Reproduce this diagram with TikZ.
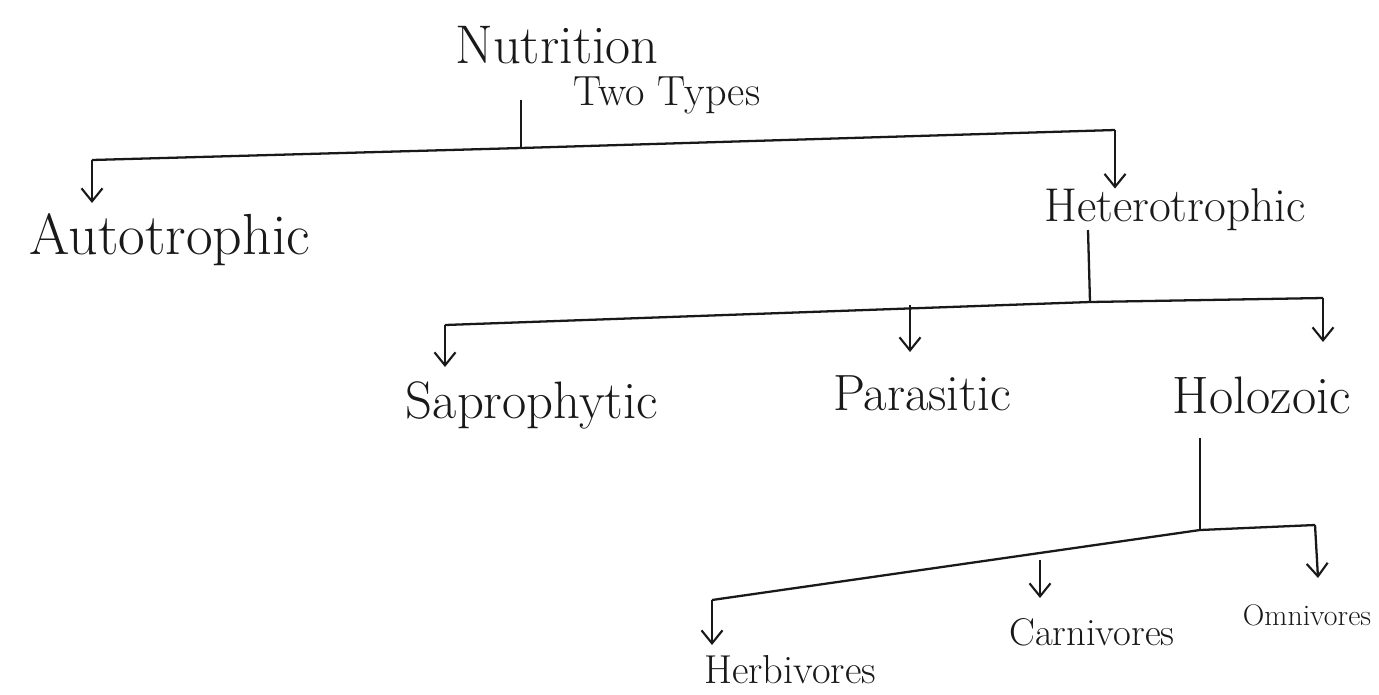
\documentclass[tikz,border=0pt]{standalone}
\usetikzlibrary{arrows.meta}
\begin{document}
\begin{tikzpicture}[x=0.02cm,y=-0.02cm,
  ink/.style={line width=1.3pt,draw=black!90},
  arr/.style={ink,-{Straight Barb[length=2.6mm,width=4.2mm,line width=1.2pt]}},
  lbl/.style={inner sep=0pt,text=black!90},
  big/.style={lbl,font=\fontsize{#1}{#1}\selectfont}]
\fill[white] (0,0) rectangle (1379,694);
\useasboundingbox (0,0) rectangle (1379,694);
% labels
\node[big=31] (nut) at (557,45) {Nutrition};
\node[big=24] (two) at (667,95) {Two Types};
\node[big=33] (auto) at (170,240) {Autotrophic};
\node[big=27] (het) at (1175,210) {Heterotrophic};
\node[big=30] (sap) at (532,405) {Saprophytic};
\node[big=29] (par) at (922,393) {Parasitic};
\node[big=30] (hol) at (1262,395) {Holozoic};
\node[big=23] (herb) at (790,670) {Herbivores};
\node[big=22] (carn) at (1092,632) {Carnivores};
\node[big=17] (omni) at (1307,615) {Omnivores};
% joints
\coordinate (j1) at (521,148);
\coordinate (b1l) at (92,160);
\coordinate (b1r) at (1115,130);
\coordinate (j2) at (1090,302);
\coordinate (b2l) at (445,325);
\coordinate (b2m) at (910,305);
\coordinate (b2r) at (1323,298);
\coordinate (j3) at (1200,530);
\coordinate (b3l) at (712,600);
\coordinate (b3m) at (1040,560);
\coordinate (b3r) at (1315,525);
% level 1
\draw[ink] (521,100) -- (j1);
\draw[ink] (b1l) -- (j1) -- (b1r);
\draw[arr] (b1l) -- (92,203);
\draw[arr] (b1r) -- (het.north -| b1r);
% level 2
\draw[ink] (1088,230) -- (j2);
\draw[ink] (b2l) -- (j2) -- (b2r);
\draw[arr] (b2l) -- (445,367);
\draw[arr] (b2m) -- (910,352);
\draw[arr] (b2r) -- (1323,342);
% level 3
\draw[ink] (1200,438) -- (j3);
\draw[ink] (b3l) -- (j3) -- (b3r);
\draw[arr] (b3l) -- (712,645);
\draw[arr] (b3m) -- (1040,598);
\draw[arr] (b3r) -- (1318,578);
\end{tikzpicture}
\end{document}
